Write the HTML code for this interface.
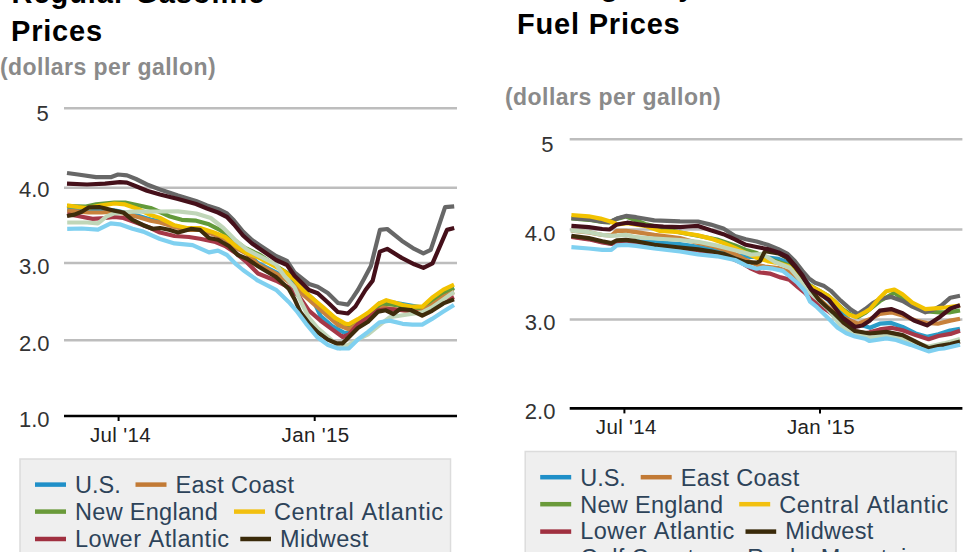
<!DOCTYPE html>
<html><head><meta charset="utf-8">
<style>
html,body{margin:0;padding:0;background:#fff;width:980px;height:552px;overflow:hidden}
svg{display:block}
text{font-family:"Liberation Sans",sans-serif}
.t{font-weight:bold;font-size:29px;fill:#000;letter-spacing:0.8px}
.s{font-weight:bold;font-size:23px;fill:#8a8a8a;letter-spacing:0.45px}
.y{font-size:22px;fill:#333}
.x{font-size:20.5px;fill:#222;letter-spacing:0.35px}
.l{font-size:23.5px;fill:#2d4359;font-kerning:none}
.g{stroke:#bdbdbd;stroke-width:2.5}
.ax{stroke:#000;stroke-width:2.6}
.ln{fill:none;stroke-width:4.2;stroke-linejoin:round;stroke-linecap:butt}
.k{stroke-width:4.5}
</style></head><body>
<svg width="980" height="552" viewBox="0 0 980 552">
<!-- LEFT -->
<text class="t" x="11.5" y="2.9" style="letter-spacing:0.95px">Regular Gasoline</text>
<text class="t" x="11" y="41.3">Prices</text>
<text class="s" x="0" y="74.6">(dollars per gallon)</text>
<line class="g" x1="64" y1="108.3" x2="457" y2="108.3"/>
<line class="g" x1="64" y1="187.7" x2="457" y2="187.7"/>
<line class="g" x1="64" y1="263" x2="457" y2="263"/>
<line class="g" x1="64" y1="340.2" x2="457" y2="340.2"/>
<line class="ax" x1="64" y1="416" x2="457" y2="416"/>
<line class="ax" x1="118.6" y1="416" x2="118.6" y2="421" style="stroke-width:2"/>
<line class="ax" x1="314.7" y1="416" x2="314.7" y2="421" style="stroke-width:2"/>
<path class="ln" stroke="#2b9cc8" d="M67.2,209.5 L78.1,210.4 L89.0,211.3 L101.7,211.3 L114.3,210.4 L127.0,213.1 L138.0,215.8 L150.6,219.5 L160.0,221.3 L174.5,225.8 L187.0,228.8 L200.0,228.8 L214.0,233.3 L225.0,237.8 L236.0,246.8 L247.0,252.8 L258.0,263.2 L276.0,272.3 L284.3,277.5 L294.5,284.8 L304.6,294.8 L314.8,303.6 L320.6,316.0 L332.2,326.0 L343.8,332.5 L350.0,333.0 L357.9,326.0 L368.0,318.0 L379.8,303.0 L390.0,302.0 L399.4,303.5 L410.8,305.5 L422.2,307.5 L432.0,300.0 L443.4,292.0 L454.0,287.5"/>
<path class="ln" stroke="#629a3a" d="M67.0,206.2 L86.0,206.5 L96.2,204.4 L114.3,202.6 L125.2,202.6 L138.0,205.3 L150.6,208.0 L160.0,212.0 L169.0,216.2 L181.7,219.8 L196.2,220.7 L209.0,224.3 L219.8,229.8 L232.5,238.8 L245.0,248.0 L260.0,255.0 L276.0,266.0 L289.0,274.0 L300.0,287.0 L313.0,299.0 L326.0,311.0 L337.0,320.0 L349.0,326.8 L357.9,323.0 L368.0,316.6 L378.2,307.8 L387.0,304.0 L402.6,305.9 L412.4,309.2 L422.2,309.2 L432.0,301.8 L443.4,292.8 L454.0,288.0"/>
<path class="ln" stroke="#c8823c" d="M67.2,210.7 L78.1,211.6 L89.0,212.5 L101.7,212.5 L114.3,211.6 L127.0,214.3 L138.0,217.0 L150.6,220.7 L160.0,222.5 L174.5,227.0 L187.0,230.0 L200.0,230.0 L214.0,234.5 L225.0,239.0 L236.0,248.0 L247.0,254.0 L258.0,264.4 L276.0,273.5 L284.3,278.7 L294.5,286.0 L304.6,296.0 L314.8,304.8 L326.4,315.0 L338.0,325.0 L349.0,329.3 L358.0,324.0 L368.0,319.0 L383.0,307.5 L400.0,310.0 L420.0,312.0 L432.0,305.0 L443.4,297.0 L454.0,292.0"/>
<path class="ln" stroke="#676767" d="M67.0,173.0 L78.0,174.5 L96.0,177.2 L110.7,177.2 L118.0,174.5 L127.0,175.4 L136.0,179.0 L147.0,184.5 L160.0,189.5 L178.0,195.5 L196.0,201.0 L207.0,205.5 L218.0,209.0 L227.0,213.5 L234.0,220.5 L243.0,231.5 L252.0,240.0 L260.0,245.5 L276.0,256.0 L287.0,261.0 L294.5,272.5 L309.0,284.0 L317.7,286.7 L327.8,293.0 L338.0,303.0 L347.8,304.6 L352.8,297.6 L357.9,290.0 L364.0,279.0 L370.9,266.0 L379.9,229.9 L387.2,229.0 L401.7,240.7 L414.3,248.9 L423.4,253.4 L430.7,249.8 L445.1,207.2 L454.2,206.3"/>
<path class="ln" stroke="#f2c200" d="M67.0,205.3 L78.0,207.0 L87.0,208.0 L101.7,205.3 L114.3,203.5 L125.0,204.4 L138.0,209.0 L150.6,215.0 L160.0,218.0 L174.5,225.3 L187.0,228.0 L200.0,228.0 L214.0,232.5 L225.0,237.0 L236.0,246.0 L247.0,253.3 L258.0,257.2 L276.0,267.0 L284.3,271.4 L294.5,280.0 L303.2,290.3 L313.3,299.0 L323.5,307.7 L335.0,317.8 L345.2,323.6 L349.0,324.2 L357.9,319.2 L368.0,312.8 L378.2,304.0 L386.3,300.2 L394.5,302.6 L402.6,305.0 L412.4,306.7 L422.2,306.7 L432.0,297.7 L443.4,289.6 L454.0,284.7"/>
<path class="ln" stroke="#a63848" d="M67.2,214.3 L78.0,216.0 L92.6,218.9 L105.3,218.0 L114.3,217.0 L123.4,218.0 L136.0,222.5 L150.6,228.0 L160.0,232.5 L174.5,236.0 L189.0,237.0 L199.9,238.8 L214.3,241.6 L225.2,246.0 L236.0,253.3 L247.0,262.4 L258.0,273.5 L276.0,280.7 L288.7,287.4 L298.8,296.0 L309.0,310.6 L320.6,320.7 L332.2,329.4 L342.7,337.0 L349.0,334.4 L357.9,324.2 L368.0,317.9 L378.2,310.3 L389.6,309.2 L400.0,310.0 L412.0,311.0 L422.2,314.0 L432.0,309.0 L443.4,302.0 L454.0,297.0"/>
<path class="ln" stroke="#c0d6b8" d="M67.2,222.5 L87.2,222.5 L98.0,223.4 L107.0,216.2 L114.3,213.4 L132.5,211.6 L147.0,211.6 L160.0,211.5 L178.0,211.3 L196.2,213.5 L210.7,218.0 L223.4,228.0 L236.0,240.7 L247.0,249.7 L258.0,255.4 L276.0,264.4 L284.3,275.8 L294.5,287.4 L301.7,303.3 L309.0,317.8 L317.7,328.0 L329.3,338.0 L340.0,348.3 L349.0,344.5 L357.9,339.5 L368.0,334.4 L380.7,324.2 L389.6,317.3 L399.4,315.7 L410.8,314.0 L422.2,312.4 L432.0,307.5 L443.4,299.4 L454.0,292.0"/>
<path class="ln" stroke="#3e2c0c" d="M67.0,216.0 L74.5,214.6 L81.7,211.7 L89.0,207.3 L100.0,207.2 L103.5,208.0 L114.3,210.7 L123.4,212.5 L132.5,219.8 L143.3,225.2 L152.4,228.8 L160.0,228.0 L169.0,229.8 L178.0,232.5 L190.8,228.9 L199.9,229.8 L209.0,238.0 L218.0,239.7 L228.8,246.0 L237.9,255.0 L247.0,258.8 L258.0,266.2 L276.0,277.0 L288.7,288.8 L294.5,299.0 L300.3,312.0 L309.0,323.6 L317.7,332.3 L327.8,339.6 L336.3,343.3 L342.7,343.3 L349.0,337.0 L357.9,328.0 L368.0,321.7 L378.2,311.6 L385.8,310.3 L393.4,314.0 L400.0,309.0 L410.8,310.0 L422.2,315.7 L432.0,310.8 L443.4,303.4 L454.0,299.4"/>
<path class="ln" stroke="#7fd0f0" d="M67.2,228.8 L81.7,228.5 L98.0,229.7 L110.7,223.4 L119.8,224.3 L132.5,228.8 L143.3,231.6 L160.0,239.0 L174.5,243.4 L192.6,245.2 L209.0,252.4 L218.0,250.6 L227.0,255.0 L236.0,264.2 L243.0,270.0 L258.0,280.7 L276.0,289.8 L288.7,301.9 L297.4,312.0 L306.0,323.6 L317.0,337.0 L328.0,345.0 L338.0,348.5 L349.0,348.3 L357.9,339.5 L368.0,331.8 L379.8,322.2 L389.6,320.6 L402.6,323.8 L412.4,324.6 L422.2,324.6 L432.0,318.9 L443.4,311.6 L454.0,305.0"/>
<path class="ln" stroke="#45101a" d="M67.0,183.6 L87.0,184.5 L105.0,183.6 L119.8,182.1 L127.0,182.6 L136.0,186.3 L147.0,190.8 L160.0,194.5 L178.0,199.0 L196.0,204.0 L207.0,208.5 L218.0,212.5 L227.0,217.0 L234.0,224.5 L243.0,235.5 L252.0,243.5 L260.0,249.0 L276.0,260.0 L287.0,265.0 L294.5,275.8 L309.0,290.0 L317.7,293.2 L329.0,303.5 L337.8,312.0 L347.8,313.5 L355.4,306.5 L365.5,290.0 L372.7,280.6 L379.9,251.6 L387.2,248.9 L401.7,257.9 L414.3,264.3 L423.4,267.9 L432.5,263.4 L447.0,229.9 L454.2,228.0"/>
<text class="y" x="36.5" y="121">5</text>
<text class="y" x="19" y="197.3">4.0</text>
<text class="y" x="19" y="273.8">3.0</text>
<text class="y" x="19" y="350.7">2.0</text>
<text class="y" x="19" y="427">1.0</text>
<text class="x" x="90" y="442.4">Jul '14</text>
<text class="x" x="281.6" y="442.4">Jan '15</text>
<rect x="20" y="459" width="430.5" height="110" fill="#efefef" stroke="#dcdcdc" stroke-width="1.5"/>
<g id="leg">
<g class="k">
<line x1="35" y1="484.6" x2="66" y2="484.6" stroke="#1f8fc8"/>
<line x1="135.5" y1="484.6" x2="166.5" y2="484.6" stroke="#c27a35"/>
<line x1="35" y1="511.6" x2="66" y2="511.6" stroke="#6a9a3a"/>
<line x1="234" y1="511.6" x2="265" y2="511.6" stroke="#f2c010"/>
<line x1="35" y1="539" x2="66" y2="539" stroke="#a03040"/>
<line x1="240.3" y1="539" x2="271" y2="539" stroke="#3a2a0a"/>
</g>
<text class="l" x="75" y="493">U.S.</text>
<text class="l" x="175.5" y="493" style="letter-spacing:0.4px">East Coast</text>
<text class="l" x="75" y="520" style="letter-spacing:0.3px">New England</text>
<text class="l" x="274" y="520" style="letter-spacing:0.65px">Central Atlantic</text>
<text class="l" x="75" y="546.8" style="letter-spacing:0.5px">Lower Atlantic</text>
<text class="l" x="280" y="546.8" style="letter-spacing:0.33px">Midwest</text>
</g>

<!-- RIGHT -->
<text class="t" x="517" y="-4.5" style="letter-spacing:0.9px">On-Highway Diesel</text>
<text class="t" x="517" y="33.7">Fuel Prices</text>
<text class="s" x="505" y="105.3">(dollars per gallon)</text>
<line class="g" x1="569.7" y1="139.3" x2="962.4" y2="139.3"/>
<line class="g" x1="569.7" y1="229.5" x2="962.4" y2="229.5"/>
<line class="g" x1="569.7" y1="319.4" x2="962.4" y2="319.4"/>
<line class="ax" x1="569.7" y1="408.4" x2="962.4" y2="408.4"/>
<line class="ax" x1="624.4" y1="408.4" x2="624.4" y2="413.4" style="stroke-width:2"/>
<line class="ax" x1="820" y1="408.4" x2="820" y2="413.4" style="stroke-width:2"/>
<path class="ln" stroke="#2b9cc8" d="M571.4,236.5 L588.7,238.8 L602.3,242.0 L611.3,243.6 L616.8,241.0 L626.0,240.8 L654.3,242.1 L680.0,244.0 L698.0,246.8 L717.0,250.6 L736.0,255.0 L750.0,257.0 L765.4,257.3 L778.5,258.9 L787.2,262.2 L798.0,272.0 L806.0,282.0 L816.0,290.0 L828.0,300.0 L840.0,312.0 L852.0,322.0 L870.0,327.8 L879.8,323.7 L891.2,322.9 L902.6,327.0 L915.6,333.5 L927.0,336.8 L938.4,334.3 L950.0,330.5 L960.0,328.8"/>
<path class="ln" stroke="#629a3a" d="M571.4,218.5 L588.7,219.8 L602.3,222.0 L609.5,222.4 L616.8,218.9 L626.0,216.5 L645.3,224.0 L660.0,227.5 L680.0,232.5 L698.0,235.8 L717.0,239.5 L735.0,245.5 L745.9,250.0 L756.7,253.0 L766.0,258.0 L787.8,264.9 L797.6,274.5 L806.5,283.5 L815.4,288.5 L828.0,295.7 L843.3,309.6 L850.9,314.7 L858.0,317.0 L865.0,313.0 L880.0,301.0 L894.4,292.8 L910.7,304.2 L927.0,311.5 L940.0,312.3 L950.4,312.3 L960.0,310.4"/>
<path class="ln" stroke="#c8823c" d="M571.4,230.6 L588.7,232.4 L602.3,235.0 L611.3,235.5 L616.8,230.8 L626.0,230.8 L636.2,232.2 L654.3,234.9 L680.0,238.0 L698.0,243.0 L710.7,245.6 L723.4,249.4 L735.0,254.0 L745.9,260.0 L756.7,264.9 L765.0,266.5 L778.0,268.0 L790.0,272.0 L800.0,280.0 L815.4,295.7 L826.0,305.0 L834.0,312.0 L843.5,317.8 L858.0,323.6 L869.6,319.3 L879.8,314.0 L891.2,312.3 L902.6,315.6 L915.6,320.5 L927.0,323.0 L937.7,323.7 L950.4,320.6 L960.0,318.7"/>
<path class="ln" stroke="#676767" d="M571.4,218.1 L588.7,219.5 L602.3,221.8 L609.5,222.2 L616.8,218.6 L626.0,215.9 L636.2,217.2 L654.3,220.4 L680.0,221.3 L698.0,221.5 L710.7,224.6 L723.4,228.4 L735.0,236.1 L745.9,239.3 L756.7,241.5 L767.6,244.8 L778.5,249.1 L787.2,253.5 L794.8,261.1 L802.4,270.9 L809.0,278.5 L815.0,282.8 L824.2,286.1 L830.6,290.6 L840.7,300.7 L850.9,309.6 L858.0,314.0 L865.2,309.1 L872.5,303.3 L880.0,299.0 L891.2,296.9 L902.6,301.0 L912.3,306.6 L925.4,312.3 L933.0,310.0 L941.5,305.3 L950.4,297.7 L960.0,295.8"/>
<path class="ln" stroke="#f2c200" d="M571.4,215.0 L588.7,216.3 L600.5,218.6 L609.5,221.3 L618.0,224.5 L627.0,223.2 L645.0,225.8 L660.0,231.0 L679.0,232.2 L698.0,235.4 L710.7,238.6 L723.4,243.0 L735.0,248.0 L756.7,257.8 L767.6,261.1 L778.5,263.3 L789.3,266.5 L797.6,274.1 L806.5,283.5 L811.5,286.5 L819.1,290.5 L826.7,295.0 L835.4,302.0 L842.0,309.0 L848.5,314.5 L856.1,317.0 L865.2,312.0 L870.0,309.1 L879.8,297.7 L886.3,291.2 L894.4,289.5 L902.6,294.4 L912.3,302.6 L925.4,309.1 L935.1,308.3 L945.0,307.5 L960.0,305.5"/>
<path class="ln" stroke="#a63848" d="M571.4,237.0 L588.7,239.3 L602.3,242.5 L611.3,244.0 L618.0,241.5 L636.2,242.0 L654.3,246.0 L654.3,246.0 L680.0,249.0 L698.0,250.5 L723.4,255.0 L740.0,262.0 L750.0,268.0 L760.0,272.5 L769.8,273.6 L780.7,277.4 L789.3,279.6 L797.6,286.8 L805.0,293.0 L812.0,300.0 L820.0,306.0 L828.0,311.0 L834.0,316.0 L841.0,323.5 L848.5,328.0 L855.0,331.0 L865.0,333.3 L869.6,332.3 L879.8,329.4 L891.2,327.8 L902.6,330.3 L915.6,335.1 L928.6,339.2 L938.4,336.0 L950.4,333.9 L960.0,330.7"/>
<path class="ln" stroke="#c0d6b8" d="M570.5,230.4 L588.7,232.2 L602.3,234.9 L611.3,235.8 L626.0,234.9 L636.2,237.2 L654.3,238.5 L680.0,240.0 L698.0,241.8 L717.0,245.6 L735.0,250.2 L751.3,254.6 L762.2,254.0 L775.0,262.0 L790.0,268.0 L800.0,280.0 L812.0,294.0 L820.0,301.5 L828.0,309.0 L834.0,317.0 L840.9,326.0 L848.5,331.1 L857.2,333.3 L865.0,336.0 L870.0,338.0 L886.3,335.1 L902.6,338.4 L915.6,343.3 L928.6,346.5 L944.0,343.4 L960.0,339.0"/>
<path class="ln" stroke="#3e2c0c" d="M571.4,235.8 L588.7,238.1 L602.3,241.3 L611.3,243.1 L616.8,240.4 L626.0,239.9 L636.2,241.2 L654.3,244.9 L680.0,247.6 L698.0,249.4 L710.7,251.3 L723.4,253.8 L735.0,258.5 L745.9,262.2 L756.7,262.7 L760.0,261.1 L764.3,252.4 L765.4,251.3 L778.5,253.5 L787.2,258.0 L794.8,266.5 L802.4,276.5 L811.5,290.0 L819.1,300.0 L826.7,307.0 L833.3,312.6 L843.0,322.0 L855.0,331.0 L870.0,333.5 L886.3,331.9 L902.6,335.1 L915.6,341.7 L928.6,348.2 L938.4,346.0 L950.4,344.0 L960.0,341.5"/>
<path class="ln" stroke="#7fd0f0" d="M571.4,247.2 L588.7,248.5 L602.3,249.9 L611.3,249.9 L616.8,245.3 L626.0,244.9 L636.2,245.8 L654.3,248.5 L680.0,251.5 L698.0,254.4 L717.0,256.3 L735.0,260.0 L745.9,265.4 L756.7,268.7 L763.3,267.6 L773.0,268.7 L782.8,270.9 L790.0,276.6 L797.6,283.0 L805.0,291.0 L810.0,301.5 L817.0,307.2 L825.0,315.0 L831.0,321.0 L837.6,327.8 L846.3,333.3 L855.0,336.5 L865.0,338.7 L869.6,341.0 L886.3,338.4 L896.1,340.0 L910.7,344.9 L928.6,351.4 L938.4,349.0 L944.0,348.5 L960.0,344.7"/>
<path class="ln" stroke="#45101a" d="M571.4,225.9 L588.7,227.2 L602.3,229.0 L609.5,229.5 L616.8,224.5 L627.2,222.7 L645.3,225.4 L663.4,226.7 L680.0,227.2 L687.9,226.5 L698.0,225.9 L710.7,230.3 L723.4,234.2 L735.0,239.3 L745.9,244.8 L756.7,247.0 L767.6,249.1 L778.5,252.4 L787.2,256.7 L794.8,265.4 L802.4,275.2 L805.0,280.0 L811.5,289.5 L820.0,294.0 L829.0,300.0 L836.0,309.0 L843.0,318.0 L848.5,322.0 L855.0,327.0 L862.3,325.5 L869.6,320.7 L879.8,310.7 L891.2,309.1 L902.6,313.2 L914.0,320.5 L927.0,325.4 L940.2,316.7 L950.4,308.5 L960.0,305.3"/>
<text class="y" x="541.2" y="151.8">5</text>
<text class="y" x="524.8" y="240.7">4.0</text>
<text class="y" x="524.8" y="329.8">3.0</text>
<text class="y" x="524.8" y="419.4">2.0</text>
<text class="x" x="595.8" y="434.4">Jul '14</text>
<text class="x" x="787" y="434.4">Jan '15</text>
<rect x="525.2" y="451.5" width="430.8" height="110" fill="#efefef" stroke="#dcdcdc" stroke-width="1.5"/>
<g transform="translate(505.2,-7.4)">
<use href="#leg"/>
<text class="l" x="75" y="573.8" style="letter-spacing:0.3px">Gulf Coast</text>
<text class="l" x="242" y="573.8" style="letter-spacing:0.3px">Rocky Mountain</text>
</g>
</svg>
</body></html>
